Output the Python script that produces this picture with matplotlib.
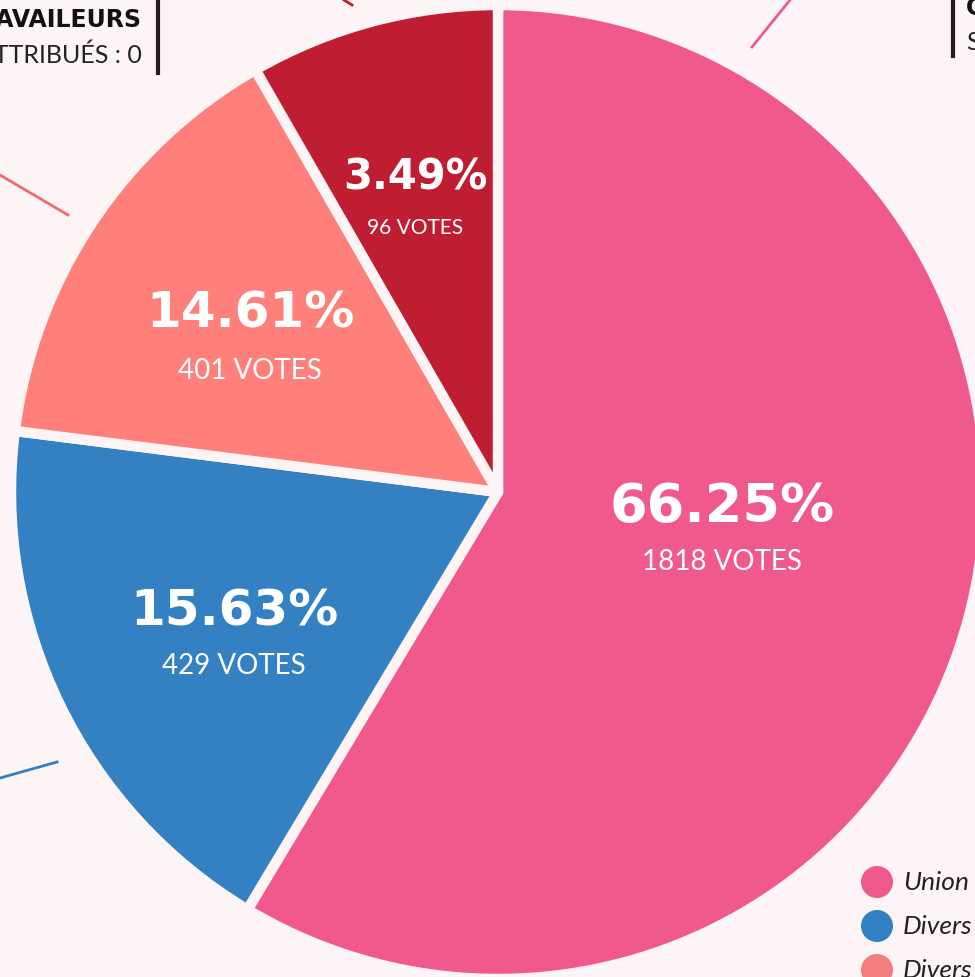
import matplotlib.pyplot as plt
from matplotlib.patches import Circle

# data (order: clockwise from the top)
parties = ['Union', 'Divers', 'Divers', 'Divers']
votes = [1818, 429, 401, 96]
percents = ['66.25%', '15.63%', '14.61%', '3.49%']
# slice sizes as drawn in the picture (deg share of the circle, in %)
slice_share = [58.6, 18.4, 14.7, 8.3]
colors = ['#F05A8A', '#3380C2', '#FF7F7A', '#BF1E32']
legend_colors = ['#F05A8A', '#3380C2', '#F47E7C']

bg = '#FDF4F5'
W, H = 975, 977

fig = plt.figure(figsize=(9.75, 9.77), dpi=100, facecolor=bg)
ax = fig.add_axes([0, 0, 1, 1])
ax.set_facecolor(bg)

# pie, drawn in pixel units (y flipped so the top is at 977)
cx, cy = 498, H - 492
ax.pie(slice_share, colors=colors, startangle=90, counterclock=False,
       center=(cx, cy), radius=487,
       wedgeprops=dict(edgecolor=bg, linewidth=7.5, joinstyle='round'))

# labels in the slices
label_pos = [(722, 507, 562), (234, 612, 666), (250, 314, 371), (415, 178, 228)]
pct_size = [39, 36, 36, 30]
vote_size = [20, 20, 20, 15]
for i in range(len(votes)):
    x, yp, yv = label_pos[i]
    ax.text(x, H - yp, percents[i], color='white', fontsize=pct_size[i],
            fontweight='bold', ha='center', va='center')
    ax.text(x, H - yv, f'{votes[i]} VOTES', color='white', fontsize=vote_size[i],
            family='Lato', fontweight='normal', ha='center', va='center')

# leader lines going out of the frame
ax.plot([0, 68], [H - 175, H - 215], color='#F26B6B', lw=2)
ax.plot([344, 352], [H - 0, H - 5], color=colors[3], lw=2)
ax.plot([752, 790], [H - 47, H - 0], color=colors[0], lw=2)
ax.plot([0, 57], [H - 778, H - 762], color=colors[1], lw=2)

# side notes (cut by the frame, as in the original)
ax.plot([158, 158], [H, H - 73], color='#231F20', lw=3)
ax.text(142, H - 20, 'TRAVAILEURS', fontsize=17, fontweight='bold',
        color='#111111', ha='right', va='center')
ax.text(142, H - 55, 'ATTRIBUÉS : 0', fontsize=18, family='Lato',
        color='#222222', ha='right', va='center')
ax.plot([953, 953], [H, H - 56], color='#231F20', lw=3)
ax.text(966, H - 8, 'CGT', fontsize=17, fontweight='bold',
        color='#111111', ha='left', va='center')
ax.text(966, H - 42, 'SIÈGES', fontsize=18, family='Lato',
        color='#222222', ha='left', va='center')

# legend (cut at the right edge)
for i, name in enumerate(parties[:3]):
    ly = H - (882 + 44 * i)
    ax.add_patch(Circle((877, ly), 16, color=legend_colors[i], lw=0))
    ax.text(903, ly, name, fontsize=19, style='italic',
            family='Lato', color='#222222', ha='left', va='center')

ax.set_xlim(0, W)
ax.set_ylim(0, H)
ax.set_aspect('auto')
ax.axis('off')

fig.savefig('out.png', dpi=100, facecolor=bg)
